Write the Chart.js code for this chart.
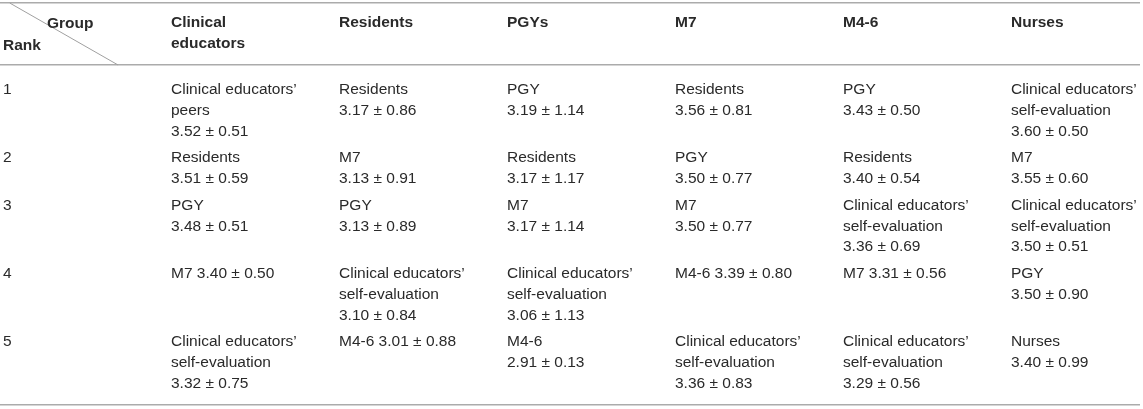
<!DOCTYPE html>
<html>
<head>
<meta charset="utf-8">
<title>Rank of raters by group</title>
<script src="https://cdn.jsdelivr.net/npm/chart.js@4.4.0/dist/chart.umd.min.js"></script>
<style>
  html, body { margin: 0; padding: 0; background: #fff; }
  #wrap { width: 1143px; height: 409px; }
</style>
</head>
<body>
<div id="wrap"><canvas id="rankTable"></canvas></div>
<script>
// Column headings (line breaks as printed) and the rank labels down the side.
const groups = ['Clinical\neducators', 'Residents', 'PGYs', 'M7', 'M4-6', 'Nurses'];
const ranks = ['1', '2', '3', '4', '5'];

// Cell text for each group, rank 1 to 5. Line breaks follow the printed table.
const clinicalEducators = [
    'Clinical educators\u2019\npeers\n3.52 \u00b1 0.51',
    'Residents\n3.51 \u00b1 0.59',
    'PGY\n3.48 \u00b1 0.51',
    'M7 3.40 \u00b1 0.50',
    'Clinical educators\u2019\nself-evaluation\n3.32 \u00b1 0.75'
];
const residents = [
    'Residents\n3.17 \u00b1 0.86',
    'M7\n3.13 \u00b1 0.91',
    'PGY\n3.13 \u00b1 0.89',
    'Clinical educators\u2019\nself-evaluation\n3.10 \u00b1 0.84',
    'M4-6 3.01 \u00b1 0.88'
];
const pgys = [
    'PGY\n3.19 \u00b1 1.14',
    'Residents\n3.17 \u00b1 1.17',
    'M7\n3.17 \u00b1 1.14',
    'Clinical educators\u2019\nself-evaluation\n3.06 \u00b1 1.13',
    'M4-6\n2.91 \u00b1 0.13'
];
const m7 = [
    'Residents\n3.56 \u00b1 0.81',
    'PGY\n3.50 \u00b1 0.77',
    'M7\n3.50 \u00b1 0.77',
    'M4-6 3.39 \u00b1 0.80',
    'Clinical educators\u2019\nself-evaluation\n3.36 \u00b1 0.83'
];
const m46 = [
    'PGY\n3.43 \u00b1 0.50',
    'Residents\n3.40 \u00b1 0.54',
    'Clinical educators\u2019\nself-evaluation\n3.36 \u00b1 0.69',
    'M7 3.31 \u00b1 0.56',
    'Clinical educators\u2019\nself-evaluation\n3.29 \u00b1 0.56'
];
const nurses = [
    'Clinical educators\u2019\nself-evaluation\n3.60 \u00b1 0.50',
    'M7\n3.55 \u00b1 0.60',
    'Clinical educators\u2019\nself-evaluation\n3.50 \u00b1 0.51',
    'PGY\n3.50 \u00b1 0.90',
    'Nurses\n3.40 \u00b1 0.99'
];
const columns = [clinicalEducators, residents, pgys, m7, m46, nurses];

// Layout (y scale runs in pixel-like units from the top, x scale in columns).
const topRule = 3, headRule = 65, bottomRule = 405;
const lineStep = 20.8;   // distance between text lines inside a cell
const rowGap = 26.6;     // last line of a row to first line of the next
const firstRowY = 90;
const headFirstY = 23;

// Build one anchor point per printed text line.
let headPoints = [{x: 0.262, y: 24, text: 'Group'}, {x: 0, y: 46, text: 'Rank'}];
groups.forEach((g, c) => {
    g.split('\n').forEach((line, i) => {
        headPoints.push({x: c + 1, y: headFirstY + i * 21, text: line});
    });
});

let cellPoints = [];
let rowY = firstRowY;
ranks.forEach((rank, r) => {
    let rowLines = Math.max(...columns.map(col => col[r].split('\n').length));
    cellPoints.push({x: 0, y: rowY, text: rank});
    columns.forEach((col, c) => {
        col[r].split('\n').forEach((line, i) => {
            cellPoints.push({x: c + 1, y: rowY + i * lineStep, text: line});
        });
    });
    rowY += (rowLines - 1) * lineStep + rowGap;
});

// Writes the text at each point the scales placed, plus the corner diagonal.
const tableText = {
    id: 'tableText',
    afterDatasetsDraw(chart) {
        const ctx = chart.ctx;
        const xs = chart.scales.x;
        const ys = chart.scales.y;
        ctx.save();
        ctx.strokeStyle = '#a0a0a0';
        ctx.lineWidth = 1;
        ctx.beginPath();
        ctx.moveTo(xs.getPixelForValue(0.04), ys.getPixelForValue(topRule));
        ctx.lineTo(xs.getPixelForValue(0.685), ys.getPixelForValue(headRule));
        ctx.stroke();
        chart.data.datasets.forEach((ds, i) => {
            const meta = chart.getDatasetMeta(i);
            ctx.font = ds.textFont;
            ctx.fillStyle = '#2a2a2a';
            ctx.textAlign = 'left';
            ctx.textBaseline = 'middle';
            meta.data.forEach((pt, j) => ctx.fillText(ds.data[j].text, pt.x, pt.y));
        });
        ctx.restore();
    }
};

let ctx = document.getElementById('rankTable').getContext('2d');
let chart = new Chart(ctx, {
    type: 'scatter',
    data: {
        datasets: [
            {label: 'header', data: headPoints, textFont: 'bold 15.5px "Liberation Sans", Arial, sans-serif', pointRadius: 0, pointHoverRadius: 0},
            {label: 'cells', data: cellPoints, textFont: '15.5px "Liberation Sans", Arial, sans-serif', pointRadius: 0, pointHoverRadius: 0}
        ]
    },
    options: {
        responsive: true,
        maintainAspectRatio: false,
        animation: false,
        events: [],
        layout: {padding: {left: 0, right: 3, top: 0, bottom: 0}},
        plugins: {legend: {display: false}, tooltip: {enabled: false}},
        scales: {
            x: {type: 'linear', display: false, min: -0.0179, max: 6.768},
            y: {
                type: 'linear',
                min: 0,
                max: 409,
                reverse: true,
                afterBuildTicks: scale => {
                    scale.ticks = [topRule, headRule, bottomRule].map(v => ({value: v}));
                },
                ticks: {display: false},
                border: {display: false},
                grid: {color: '#ababab', lineWidth: 1.5, drawTicks: false}
            }
        }
    },
    plugins: [tableText]
});
</script>
</body>
</html>
